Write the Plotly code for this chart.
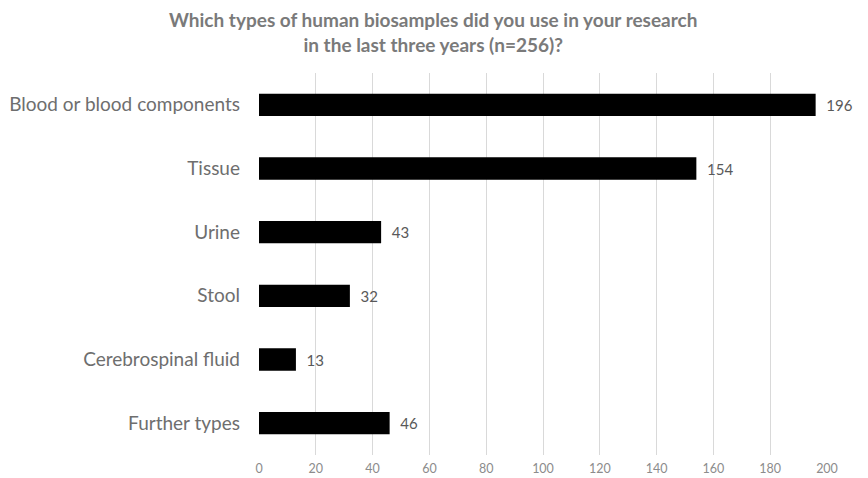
import plotly.graph_objects as go

categories = ["Blood or blood components", "Tissue", "Urine", "Stool",
              "Cerebrospinal fluid", "Further types"]
counts = [196, 154, 43, 32, 13, 46]
x_ticks = list(range(0, 201, 20))
title_text = ("Which types of human biosamples did you use in your research"
              "<br>in the last three years (n=256)?")

fig = go.Figure(go.Bar(
    y=categories,
    x=counts,
    orientation="h",
    width=0.35,
    marker=dict(color="#000000", line=dict(width=0)),
    texttemplate="  %{x}",
    textposition="outside",
    cliponaxis=False,
    textfont=dict(family="Lato", size=15, color="#595959"),
))

fig.update_layout(
    width=868, height=478,
    margin=dict(l=259, r=41, t=73, b=23),
    paper_bgcolor="white", plot_bgcolor="white",
    showlegend=False,
    annotations=[dict(
        text=title_text, showarrow=False,
        xref="paper", yref="paper", x=0.306, y=1.038,
        xanchor="center", yanchor="bottom", align="center",
        font=dict(family="Lato", size=19, color="#7A7A7A", weight="bold"),
    )],
)
fig.update_xaxes(
    range=[0, 200], tickvals=x_ticks, showgrid=True, gridcolor="#D9D9D9",
    gridwidth=1, zeroline=False, showline=False, automargin=False,
    tickfont=dict(family="Lato", size=12.5, color="#8C8C8C"),
    ticks="", ticklabelstandoff=4,
)
fig.update_yaxes(
    categoryorder="array", categoryarray=categories[::-1],
    showgrid=False, showline=False, zeroline=False, ticks="",
    automargin=False,
    tickfont=dict(family="Lato", size=19, color="#6E6E6E"),
    ticklabelstandoff=18,
)

fig.write_html("out.html")
